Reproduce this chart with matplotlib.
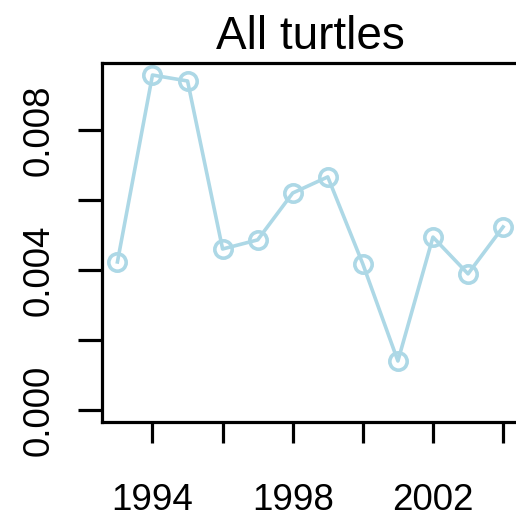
import numpy as np
import matplotlib
matplotlib.use('Agg')
import matplotlib.pyplot as plt

# Yearly values for all turtles
years = [1993, 1994, 1995, 1996, 1997, 1998, 1999, 2000, 2001, 2002, 2003, 2004]
rate = [0.00423, 0.00957, 0.00940, 0.00460, 0.00486, 0.00620,
        0.00666, 0.00417, 0.00140, 0.00494, 0.00389, 0.00523]

xticks = [1994, 1996, 1998, 2000, 2002, 2004]
xticklabels = ['1994', '', '1998', '', '2002', '']
yticks = [0.000, 0.002, 0.004, 0.006, 0.008]
yticklabels = ['0.000', '', '0.004', '', '0.008']

plt.rcParams['font.family'] = ['Liberation Sans', 'DejaVu Sans']

fig = plt.figure(figsize=(5.16, 5.17), dpi=100)
ax = fig.add_axes([102 / 516, 1 - 422 / 517, (518.5 - 102) / 516, (422 - 63) / 517])

ax.plot(years, rate, color='lightblue', lw=2.6, marker='o', ms=12.5,
        mfc='none', mec='lightblue', mew=2.6, clip_on=False)

ax.set_xlim(1992.56, 2004.44)
ax.set_ylim(-0.000343, 0.009914)
ax.set_xticks(xticks)
ax.set_xticklabels(xticklabels)
ax.set_yticks(yticks)
ax.set_yticklabels(yticklabels, rotation=90, va='center')

for s in ax.spines.values():
    s.set_linewidth(2.3)
ax.tick_params(axis='x', length=15, width=2.3, labelsize=26.5, pad=29)
ax.tick_params(axis='y', length=17, width=2.3, labelsize=26.5, pad=16)

ax.set_title('All turtles', fontsize=33, pad=10)

fig.savefig('out.png', dpi=100)
